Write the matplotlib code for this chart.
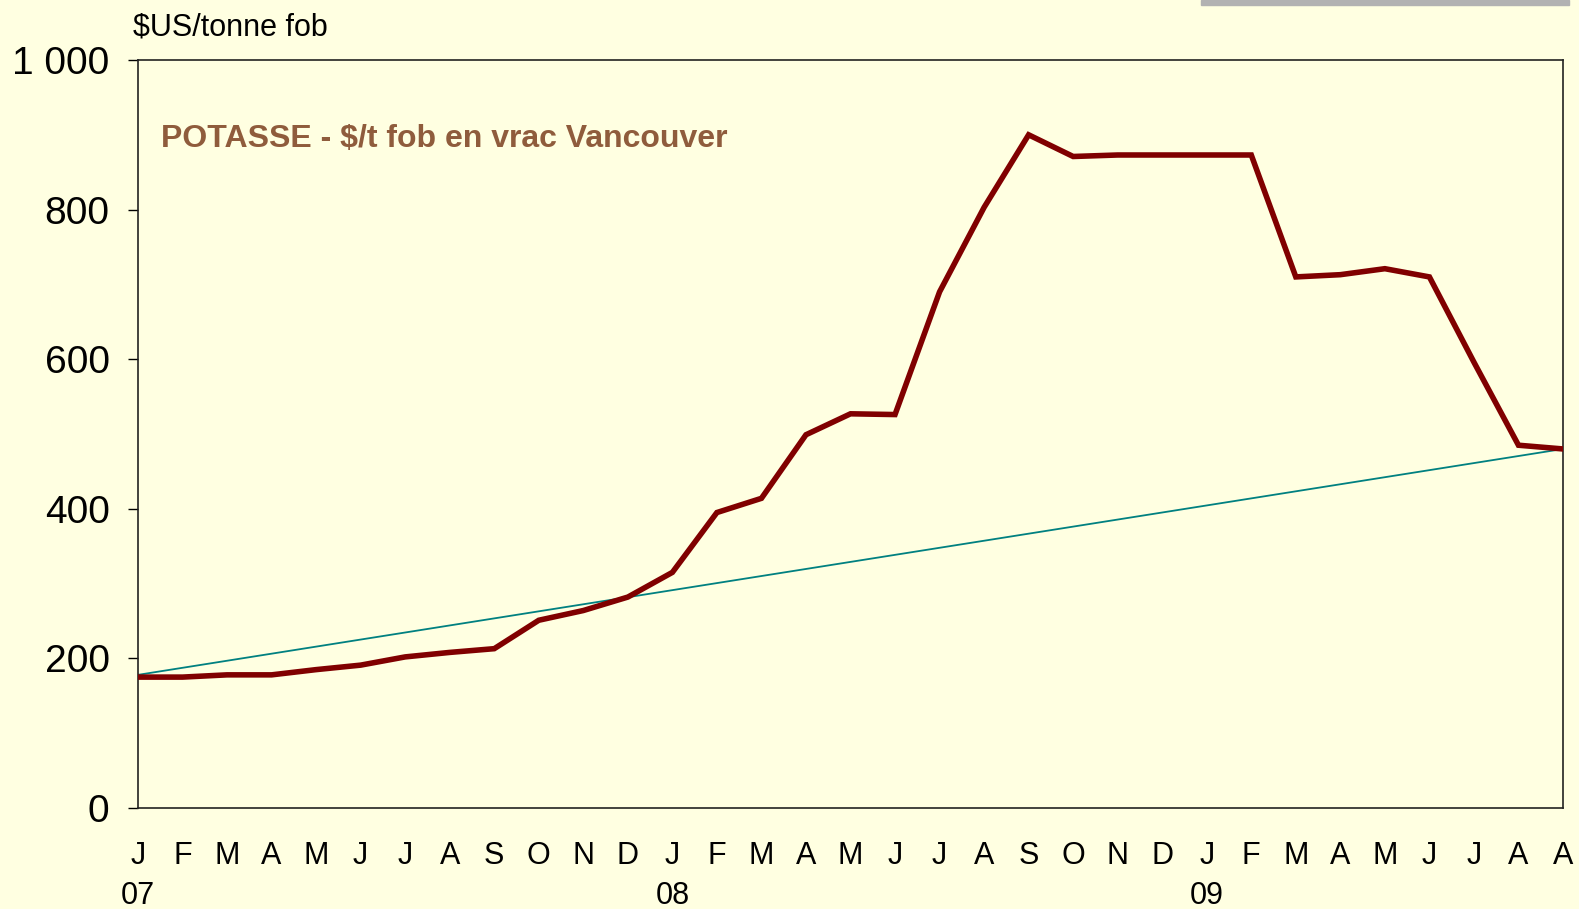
import matplotlib.pyplot as plt
from matplotlib.ticker import FuncFormatter

plt.rcParams['font.family'] = ['Liberation Sans', 'DejaVu Sans']

# Jan 2007 .. Aug 2009 (the source repeats the last "A")
months = ["J", "F", "M", "A", "M", "J", "J", "A", "S", "O", "N", "D",
          "J", "F", "M", "A", "M", "J", "J", "A", "S", "O", "N", "D",
          "J", "F", "M", "A", "M", "J", "J", "A", "A"]
years = {0: "07", 12: "08", 24: "09"}

potasse = [175, 175, 178, 178, 185, 191, 202, 208, 213, 251, 264, 282,
           315, 395, 414, 499, 527, 526, 690, 803, 900, 871, 873, 873,
           873, 873, 710, 713, 721, 710, 596, 485, 480]

trend_x = [0, len(months) - 1]
trend_y = [178, 480]

bg = '#ffffe1'
fig = plt.figure(figsize=(15.79, 9.09), dpi=100, facecolor=bg)
ax = fig.add_axes([138/1579, 1 - 808/909, (1563-138)/1579, (808-60)/909])
ax.set_facecolor(bg)

x = list(range(len(months)))
ax.plot(trend_x, trend_y, color='#008080', lw=1.3, zorder=2)
ax.plot(x, potasse, color='#800000', lw=4, solid_joinstyle='miter', zorder=3)

ax.set_xlim(0, len(months) - 1)
ax.set_ylim(0, 1000)
ax.set_yticks([0, 200, 400, 600, 800, 1000])
ax.yaxis.set_major_formatter(FuncFormatter(lambda v, p: f"{int(v):,}".replace(",", " ")))
ax.tick_params(axis='y', labelsize=28, length=7, width=1, pad=13.5)

labels = [m + ("\n" + years[i] if i in years else "") for i, m in enumerate(months)]
ax.set_xticks(x)
ax.set_xticklabels(labels)
ax.tick_params(axis='x', labelsize=22, length=0, pad=24)
for t in ax.get_xticklabels():
    t.set_linespacing(1.42)

for s in ax.spines.values():
    s.set_linewidth(1.2)
    s.set_color('#222222')

fig.text(133/1579, 1 - 28/909, "$US/tonne fob", fontsize=22, va='center', ha='left')
fig.text(161/1579, 1 - 139/909, "POTASSE - $/t fob en vrac Vancouver", fontsize=23,
         fontweight='bold', color='#8f5c3c', va='center', ha='left')

# grey strip at the top right
fig.patches.append(plt.Rectangle((1201/1579, 1 - 5/909), (1569-1201)/1579, 5/909,
                                 transform=fig.transFigure, color='#b2b2b2', zorder=0))

fig.savefig("out.png", dpi=100, facecolor=bg)
